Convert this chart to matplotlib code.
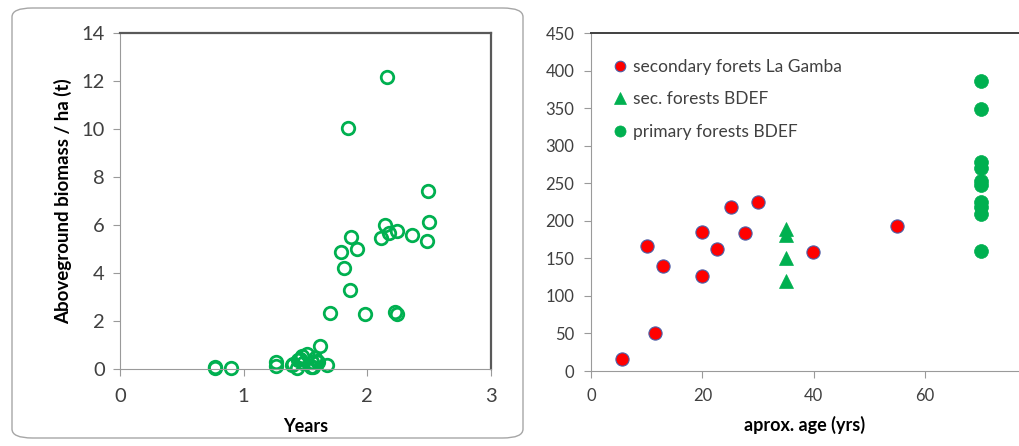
import matplotlib
matplotlib.use("Agg")
import matplotlib.pyplot as plt
from matplotlib.patches import FancyBboxPatch

plt.rcParams['font.family'] = ['Lato', 'DejaVu Sans']

# left panel: biomass over years (open green circles)
years = [0.77, 0.77, 0.90, 1.26, 1.26, 1.39, 1.40, 1.43, 1.44, 1.455, 1.47, 1.48, 1.51,
         1.545, 1.55, 1.56, 1.58, 1.59, 1.60, 1.617, 1.67, 1.70, 1.79, 1.81, 1.84,
         1.86, 1.87, 1.92, 1.98, 2.11, 2.145, 2.156, 2.172, 2.226, 2.237, 2.24,
         2.358, 2.484, 2.49, 2.50]
biomass = [0.06, 0.10, 0.06, 0.28, 0.12, 0.16, 0.19, 0.05, 0.37, 0.40, 0.54, 0.24, 0.62,
           0.10, 0.30, 0.10, 0.45, 0.35, 0.30, 0.95, 0.16, 2.33, 4.86, 4.22, 10.05,
           3.29, 5.51, 5.00, 2.28, 5.46, 6.01, 12.15, 5.65, 2.39, 2.29, 5.74,
           5.58, 5.32, 7.42, 6.11]

# right panel: biomass vs approximate age
lagamba_age = [5.5, 11.5, 10.0, 12.9, 19.9, 19.9, 22.7, 25.1, 27.6, 30.0, 39.9, 55.0]
lagamba_val = [16, 51, 167, 140, 185, 127, 163, 218, 184, 225, 158, 193]
sec_age = [35, 35, 35, 35]
sec_val = [189, 181, 151, 120]
prim_age = [70] * 10
prim_val = [386, 349, 278, 270, 253, 247, 225, 219, 209, 160]

green = '#00B050'
tick_col = '#404040'

fig = plt.figure(figsize=(10.19, 4.46), dpi=100)

# rounded frame round the left panel
frame = FancyBboxPatch((12 / 1019, 8 / 446), 511 / 1019, 430 / 446,
                       boxstyle="round,pad=0,rounding_size=0.02",
                       transform=fig.transFigure, fill=False,
                       edgecolor='#A6A6A6', linewidth=1.0)
fig.patches.append(frame)

ax1 = fig.add_axes([120 / 1019, 77 / 446, 371 / 1019, 336 / 446])
ax1.plot(years, biomass, 'o', ms=9, mfc='none', mec=green, mew=2.0, clip_on=False)
ax1.set_xlim(0, 3)
ax1.set_ylim(0, 14)
ax1.set_xticks([0, 1, 2, 3])
ax1.set_yticks(range(0, 15, 2))
for s in ['left', 'bottom']:
    ax1.spines[s].set_color('#9A9A9A')
for s in ['top', 'right']:
    ax1.spines[s].set_color('#595959')
    ax1.spines[s].set_linewidth(1.6)
ax1.tick_params(direction='out', length=5, color='#9A9A9A', labelsize=14.5,
                labelcolor=tick_col, pad=6)
ax1.tick_params(axis='x', pad=9)
ax1.set_xlabel('Years', fontsize=13, fontweight='bold', labelpad=9)
ax1.set_ylabel('Aboveground biomass / ha (t)', fontsize=13.5, fontweight='bold', labelpad=7)

ax2 = fig.add_axes([591 / 1019, 75 / 446, 428 / 1019, 338 / 446])
ax2.plot(lagamba_age, lagamba_val, 'o', ms=9.5, mfc='#FF0000', mec='#4A5FA8', mew=0.8,
         label='secondary forets La Gamba', clip_on=False)
ax2.plot(sec_age, sec_val, '^', ms=10, mfc=green, mec=green, mew=0.5,
         label='sec. forests BDEF', clip_on=False)
ax2.plot(prim_age, prim_val, 'o', ms=10, mfc=green, mec=green, mew=0.5,
         label='primary forests BDEF', clip_on=False)
ax2.set_xlim(0, 76.9)
ax2.set_ylim(0, 450)
ax2.set_xticks([0, 20, 40, 60])
ax2.set_yticks(range(0, 451, 50))
ax2.spines['right'].set_visible(False)
for s in ['left', 'bottom']:
    ax2.spines[s].set_color('#9A9A9A')
ax2.spines['top'].set_color('#404040')
ax2.spines['top'].set_linewidth(1.4)
ax2.tick_params(direction='out', length=5, color='#9A9A9A', labelsize=12,
                labelcolor=tick_col, pad=7)
ax2.set_xlabel('aprox. age (yrs)', fontsize=13, fontweight='bold', labelpad=9)
ax2.legend(loc='upper left', bbox_to_anchor=(0.0, 0.975), frameon=False, fontsize=12.5,
           handletextpad=0.1, handlelength=1.3, labelspacing=0.95, labelcolor=tick_col,
           borderaxespad=0.6, markerscale=0.8)

fig.savefig('out.png', dpi=100)
